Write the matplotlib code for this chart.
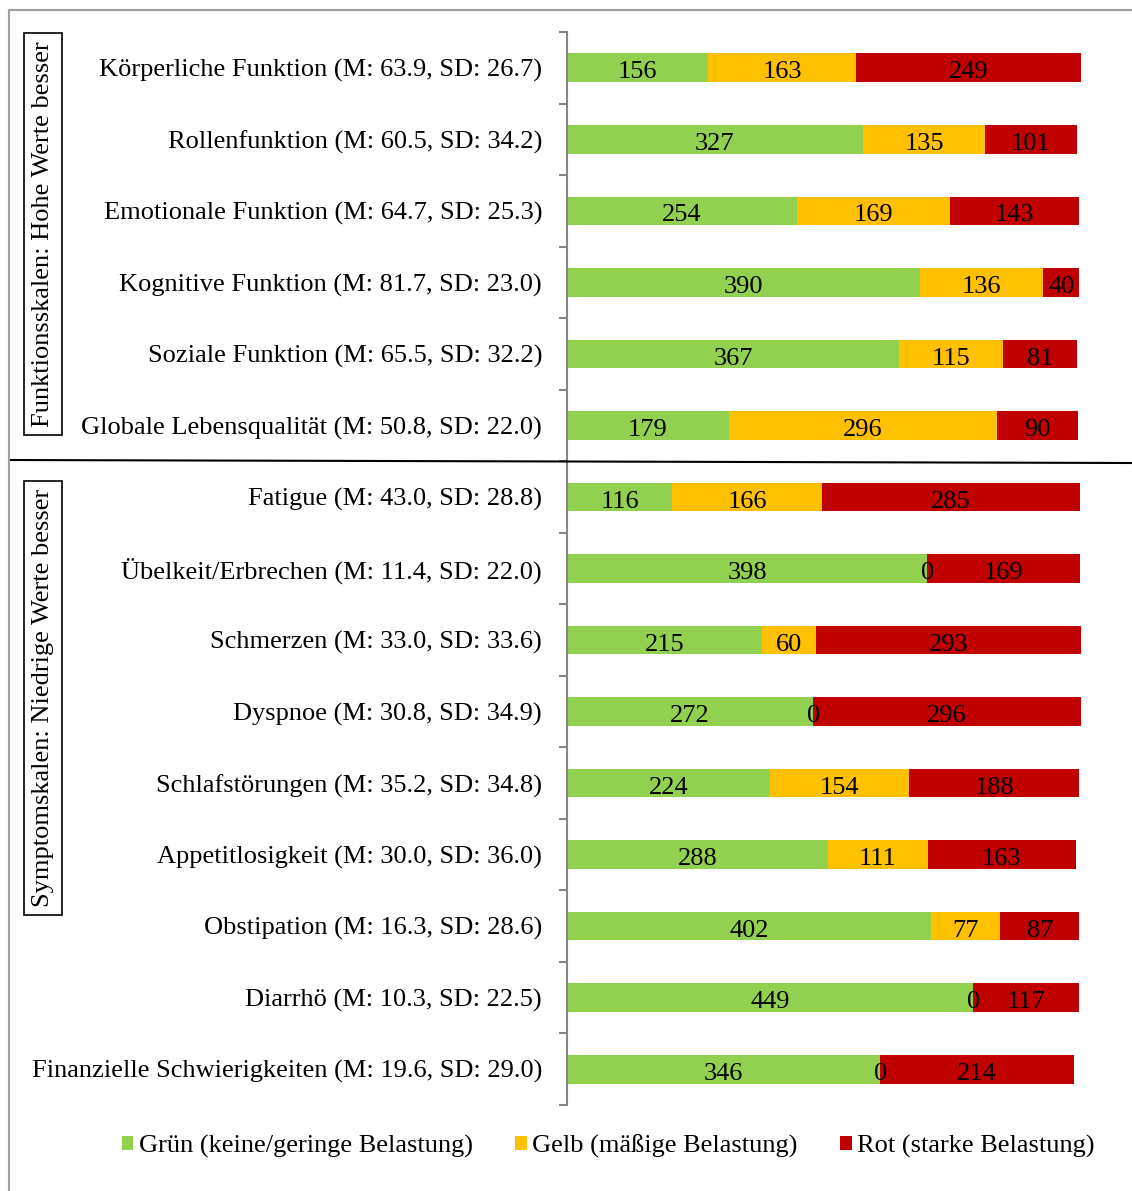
import matplotlib.pyplot as plt
from matplotlib.lines import Line2D
import numpy as np

plt.rcParams['font.family'] = ['Liberation Serif', 'DejaVu Serif']

# Kategorien (EORTC QLQ-C30 Skalen)
categories = [
    "Körperliche Funktion (M: 63.9, SD: 26.7)",
    "Rollenfunktion (M: 60.5, SD: 34.2)",
    "Emotionale Funktion (M: 64.7, SD: 25.3)",
    "Kognitive Funktion (M: 81.7, SD: 23.0)",
    "Soziale Funktion (M: 65.5, SD: 32.2)",
    "Globale Lebensqualität (M: 50.8, SD: 22.0)",
    "Fatigue (M: 43.0, SD: 28.8)",
    "Übelkeit/Erbrechen (M: 11.4, SD: 22.0)",
    "Schmerzen (M: 33.0, SD: 33.6)",
    "Dyspnoe (M: 30.8, SD: 34.9)",
    "Schlafstörungen (M: 35.2, SD: 34.8)",
    "Appetitlosigkeit (M: 30.0, SD: 36.0)",
    "Obstipation (M: 16.3, SD: 28.6)",
    "Diarrhö (M: 10.3, SD: 22.5)",
    "Finanzielle Schwierigkeiten (M: 19.6, SD: 29.0)",
]
gruen = [156, 327, 254, 390, 367, 179, 116, 398, 215, 272, 224, 288, 402, 449, 346]
gelb = [163, 135, 169, 136, 115, 296, 166, 0, 60, 0, 154, 111, 77, 0, 0]
rot = [249, 101, 143, 40, 81, 90, 285, 169, 293, 296, 188, 163, 87, 117, 214]

series = [
    ("Grün (keine/geringe Belastung)", gruen, "#92D050"),
    ("Gelb (mäßige Belastung)", gelb, "#FFC000"),
    ("Rot (starke Belastung)", rot, "#C00000"),
]

FS = 19

W, H = 1132, 1191
fig = plt.figure(figsize=(W / 100, H / 100), dpi=100)
ax = fig.add_axes([567 / W, 1 - 1105 / H, (W - 567) / W, (1105 - 32) / H])

y = np.arange(len(categories))
left = np.zeros(len(categories))
for name, vals, col in series:
    vals = np.array(vals)
    ax.barh(y, vals, left=left, height=0.4, color=col, label=name)
    for yi, l, v in zip(y, left, vals):
        ax.text(l + v / 2, yi + 0.03, str(v), ha='center', va='center_baseline',
                fontsize=FS, color='black')
    left = left + vals

ax.set_xlim(0, (W - 567) / 0.905)
ax.set_ylim(len(categories) - 0.5, -0.5)
ax.set_yticks(y)
ax.set_yticklabels(categories, fontsize=FS, va='center_baseline')
ax.set_yticks(np.arange(-0.5, len(categories)), minor=True)
ax.tick_params(axis='y', which='major', length=0, pad=18)
ax.tick_params(axis='y', which='minor', length=6, color='#868686', width=1.5)
ax.set_xticks([])
for s in ['top', 'right', 'bottom']:
    ax.spines[s].set_visible(False)
ax.spines['left'].set_color('#868686')
ax.spines['left'].set_linewidth(1.5)

# Trennlinie zwischen Funktions- und Symptomskalen
fig.add_artist(Line2D([10 / W, 1], [1 - 460 / H, 1 - 463 / H], color='black', lw=1.5))

# Rahmen (links, oben)
fig.add_artist(Line2D([9 / W, 9 / W], [0, 1 - 10 / H], color='#A0A0A0', lw=1.5))
fig.add_artist(Line2D([9 / W, 1], [1 - 10 / H, 1 - 10 / H], color='#A0A0A0', lw=1.5))

# Gruppenbeschriftungen
box = dict(boxstyle='square,pad=0.3', fc='white', ec='black', lw=1.2)
fig.text(43 / W, 1 - 234 / H, "Funktionsskalen: Hohe Werte besser", rotation=90,
         ha='center', va='center', fontsize=FS, bbox=box)
fig.text(43 / W, 1 - 698 / H, "Symptomskalen: Niedrige Werte besser", rotation=90,
         ha='center', va='center', fontsize=FS, bbox=box)

fig.legend(loc='center', bbox_to_anchor=(608 / W, 1 - 1146 / H), ncol=3, frameon=False,
           fontsize=FS, handlelength=0.45, handleheight=0.45, handletextpad=0.2,
           columnspacing=1.6)

fig.savefig("out.png", dpi=100)
